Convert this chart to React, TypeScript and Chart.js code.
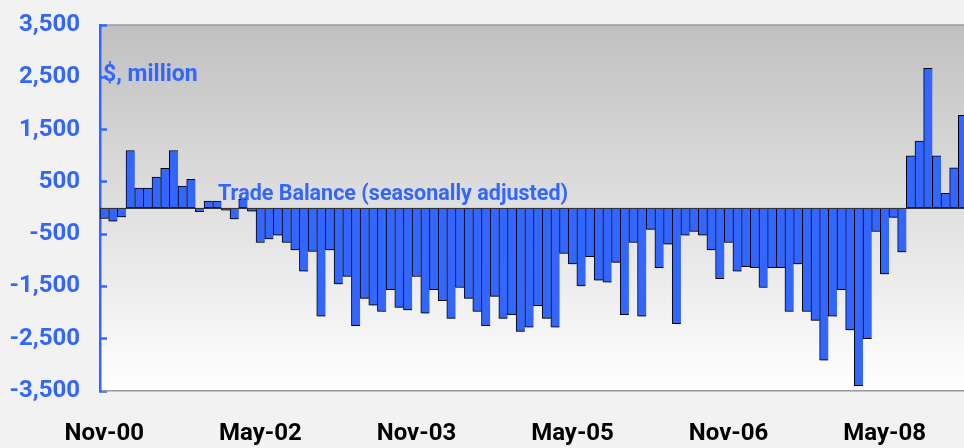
import React, { useEffect, useRef } from 'react';
import { Chart, registerables } from 'chart.js';

Chart.register(...registerables);

// Monthly trade balance, $ million (Nov-00 .. Feb-09)
const balance: number[] = [
  -200, -250, -170, 1100, 380, 380, 590, 760, 1100, 420,
  550, -70, 130, 130, -40, -210, 170, -60, -660, -590,
  -520, -660, -800, -1210, -830, -2070, -800, -1450, -1310, -2250,
  -1730, -1860, -1980, -1560, -1900, -1950, -1310, -2010, -1560, -1770,
  -2110, -1520, -1730, -1980, -2250, -1690, -2110, -2040, -2360, -2280,
  -1870, -2110, -2280, -870, -1070, -1490, -930, -1380, -1420, -1040,
  -2040, -660, -2070, -410, -1140, -690, -2210, -520, -450, -520,
  -800, -1350, -660, -1210, -1120, -1140, -1520, -1140, -1140, -1980,
  -1070, -1980, -2150, -2910, -2070, -1560, -2330, -3400, -2500, -450,
  -1260, -180, -840, 1000, 1280, 2670, 1000, 280, 770, 1770,
];

const MONTH_NAMES = ['Jan', 'Feb', 'Mar', 'Apr', 'May', 'Jun', 'Jul', 'Aug', 'Sep', 'Oct', 'Nov', 'Dec'];
const FIRST_YEAR = 2000;
const FIRST_MONTH = 10; // November
const categories: string[] = balance.map((_, i) => {
  const m = FIRST_MONTH + i;
  const y = FIRST_YEAR + Math.floor(m / 12);
  return `${MONTH_NAMES[m % 12]}-${String(y % 100).padStart(2, '0')}`;
});
const LABEL_EVERY = 18;

const Y_MIN = -3500;
const Y_MAX = 3500;
const Y_STEP = 1000;

const unitLabel = '$, million';
const seriesLabel = 'Trade Balance (seasonally adjusted)';

const BLUE = '#3366ff';
const FONT = 'Roboto';

const decorPlugin = {
  id: 'decor',
  beforeDraw(chart: any) {
    const { ctx, chartArea, width, height } = chart;
    ctx.save();
    ctx.fillStyle = '#f2f2f2';
    ctx.fillRect(0, 0, width, height);
    const g = ctx.createLinearGradient(0, chartArea.top, 0, chartArea.bottom);
    g.addColorStop(0, '#c0c0c0');
    g.addColorStop(1, '#ffffff');
    ctx.fillStyle = g;
    ctx.fillRect(chartArea.left, chartArea.top, chartArea.right - chartArea.left, chartArea.bottom - chartArea.top);
    ctx.strokeStyle = '#9a9a9a';
    ctx.lineWidth = 1.5;
    ctx.beginPath();
    ctx.moveTo(chartArea.left, chartArea.top);
    ctx.lineTo(chartArea.right, chartArea.top);
    ctx.stroke();
    ctx.restore();
  },
  beforeDatasetsDraw(chart: any) {
    const { ctx } = chart;
    ctx.save();
    ctx.shadowColor = 'rgba(0,0,0,0.22)';
    ctx.shadowOffsetX = 1.5;
    ctx.shadowOffsetY = 1.5;
    ctx.shadowBlur = 1;
  },
  afterDatasetsDraw(chart: any) {
    const { ctx, chartArea, scales } = chart;
    ctx.restore();
    const y0 = scales.y.getPixelForValue(0);
    ctx.save();
    ctx.strokeStyle = '#333333';
    ctx.lineWidth = 1;
    ctx.beginPath();
    ctx.moveTo(chartArea.left, Math.round(y0) + 0.5);
    ctx.lineTo(chartArea.right, Math.round(y0) + 0.5);
    ctx.stroke();
    ctx.restore();
  },
  afterDraw(chart: any) {
    const { ctx } = chart;
    ctx.save();
    ctx.fillStyle = BLUE;
    ctx.textBaseline = 'alphabetic';
    ctx.textAlign = 'left';
    ctx.font = `bold 23px ${FONT}`;
    ctx.fillText(unitLabel, 103, 81);
    ctx.font = `bold 21.5px ${FONT}`;
    ctx.fillText(seriesLabel, 218, 200);
    ctx.restore();
  },
};

export default function App() {
  const canvasRef = useRef<HTMLCanvasElement | null>(null);

  useEffect(() => {
    document.body.style.margin = '0';
    document.body.style.background = '#f2f2f2';
    const canvas = canvasRef.current;
    if (!canvas) return;
    const chart = new Chart(canvas, {
      type: 'bar',
      data: {
        labels: categories,
        datasets: [
          {
            label: seriesLabel,
            data: balance,
            backgroundColor: BLUE,
            borderColor: '#000000',
            borderWidth: { left: 1, right: 0, top: 1, bottom: 1 } as any,
            borderSkipped: false,
            barPercentage: 1,
            categoryPercentage: 1,
          },
        ],
      },
      options: {
        responsive: false,
        animation: false,
        events: [],
        layout: { padding: { top: 25, left: 0, right: 0, bottom: 0 } },
        plugins: {
          legend: { display: false },
          tooltip: { enabled: false },
          title: { display: false },
        },
        scales: {
          x: {
            type: 'category',
            offset: true,
            grid: { display: false, drawTicks: false },
            border: { display: true, color: '#9a9a9a', width: 1.5 },
            ticks: {
              autoSkip: false,
              maxRotation: 0,
              minRotation: 0,
              padding: 29,
              color: '#000000',
              font: { family: FONT, size: 24, weight: 'bold' },
              callback: (_v: any, i: number) => (i % LABEL_EVERY === 0 ? categories[i] : ''),
            },
            afterFit: (scale: any) => {
              scale.height = 57;
              scale.paddingLeft = 0;
              scale.paddingRight = 0;
              scale.paddingTop = 0;
              scale.paddingBottom = 0;
            },
          },
          y: {
            min: Y_MIN,
            max: Y_MAX,
            z: 1,
            grid: {
              display: true,
              drawOnChartArea: false,
              drawTicks: true,
              tickLength: -7,
              tickWidth: 2.5,
              tickColor: BLUE,
            },
            border: { display: true, color: BLUE, width: 2.5 },
            ticks: {
              stepSize: Y_STEP,
              padding: 27,
              color: BLUE,
              font: { family: FONT, size: 24, weight: 'bold' },
              callback: (v: any) => Number(v).toLocaleString('en-US'),
            },
            afterFit: (scale: any) => {
              scale.width = 100;
              scale.paddingTop = 0;
              scale.paddingBottom = 0;
              scale.paddingLeft = 0;
              scale.paddingRight = 0;
            },
          },
        },
      },
      plugins: [decorPlugin],
    });
    return () => chart.destroy();
  }, []);

  return (
    <div style={{ position: 'fixed', left: 0, top: 0, width: 964, height: 448, overflow: 'hidden', background: '#f2f2f2' }}>
      <canvas ref={canvasRef} width={967} height={448} style={{ display: 'block', width: 967, height: 448 }} />
    </div>
  );
}
